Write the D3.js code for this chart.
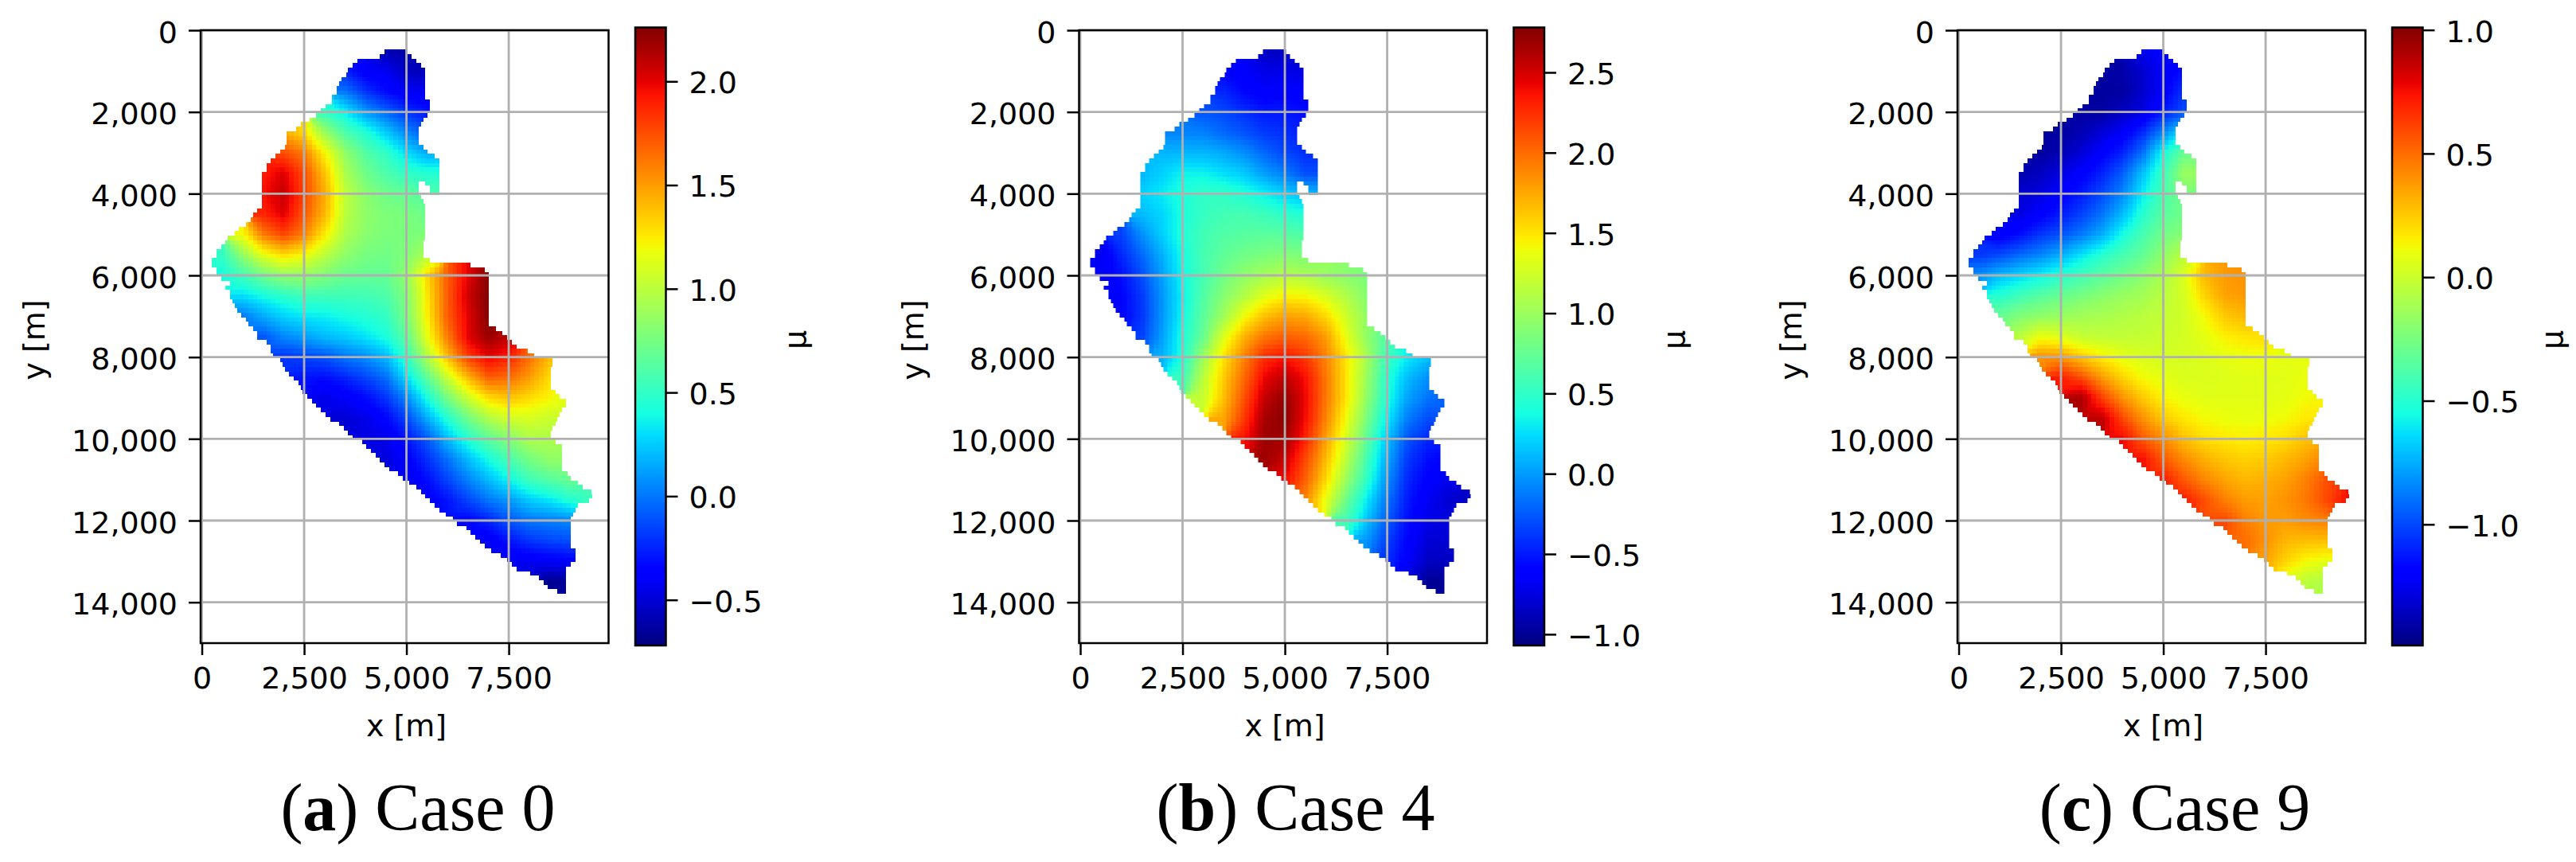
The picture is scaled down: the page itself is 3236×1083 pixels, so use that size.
<!DOCTYPE html>
<html>
<head>
<meta charset="utf-8">
<style>
  body { margin: 0; background: #fff; }
  svg { display: block; }
  text { fill: #000; font-family: "DejaVu Sans", sans-serif; }
  .caption text, text.caption { font-family: "Liberation Serif", serif; }
</style>
<script src="https://d3js.org/d3.v7.min.js"></script>
</head>
<body>
<svg></svg>
<script>
const WIDTH = 3236;
const HEIGHT = 1083;

const xTicks = [0, 2500, 5000, 7500];
const yTicks = [0, 2000, 4000, 6000, 8000, 10000, 12000, 14000];
const captionLetters = ['a', 'b', 'c'];
const captionCases = ['Case 0', 'Case 4', 'Case 9'];

// colour range of each colorbar and its ticks
const colorDomains = [[-0.72, 2.26], [-1.07, 2.78], [-1.49, 1.01]];
const colorTicks = [
  [-0.5, 0, 0.5, 1, 1.5, 2],
  [-1, -0.5, 0, 0.5, 1, 1.5, 2, 2.5],
  [-1, -0.5, 0, 0.5, 1],
];

// matplotlib jet
const jetStops = [0, 0.11, 0.125, 0.34, 0.375, 0.64, 0.66, 0.89, 0.91, 1];
const jetColors = ['#000080', '#0000ff', '#0000ff', '#00dbff', '#15ffe2',
  '#eeff08', '#ffec00', '#ff1300', '#e80000', '#800000'];

// raster of the map: cell size and the position of its first cell, in metres
const CELL = 111;
const CELL_X0 = 247;
const CELL_Y0 = 474;

// first and last column filled on each raster row
const rowLeft = [38, 37, 32, 31, 30, 29.5, 28.5, 28, 27.5, 27.5, 26.5, 26.5, 25, 24, 23, 21.5,
  19.5, 18.5, 16.5, 16.5, 16.5, 16, 15, 14, 13, 12, 12, 11, 11, 11, 11, 11, 11, 11, 11, 10, 9,
  8.5, 7.5, 6, 5, 3.5, 3, 2, 1, 1, 0, 0, 1, 1, 2, 4, 3, 4, 4, 4.5, 5, 5.5, 6.5, 7.5, 8, 9, 10,
  10, 12, 13, 13, 13.5, 15, 15.5, 16, 17, 18, 19, 19.5, 20, 21, 22, 23, 24, 25, 26, 28, 29, 30,
  31, 33, 34, 35, 36, 37, 38, 39, 41, 42, 43.5, 45, 46, 47, 48, 49, 50, 51.5, 53, 54, 56, 57,
  58, 59, 60, 61.5, 63.5, 65, 66, 67, 70, 72, 73, 74, 76];
const rowRight = [43, 44, 45, 46, 47, 47, 47, 47, 47, 47, 47, 48, 48, 48, 47.5, 46.5, 46, 45.5,
  45.5, 45.5, 45.5, 46.5, 47.5, 49, 50, 50, 50, 50, 50, 50, 50, 50, 46, 46.5, 47, 47, 47, 47,
  47, 47, 47, 47, 46.5, 46.5, 46.5, 46.5, 48, 57, 60, 61, 61, 61, 61, 61, 61, 61, 61, 61, 61,
  61, 61, 62.5, 64, 65, 66, 67, 69.5, 71, 75, 75, 74.6, 74.6, 74.6, 74.6, 74.6, 75.6, 76.5, 78,
  78, 77, 76.5, 76, 75.6, 75, 74.6, 74.6, 75.6, 77, 77, 77, 77, 77, 77, 78.3, 79, 80.6, 81.6,
  83.6, 83.7, 83, 80.6, 80, 79.5, 79, 79, 79, 79, 79, 79, 79, 80, 80, 80, 79, 78, 78, 78, 78,
  78, 78, 76.5];
// the small notch on the east side: [row, from column, to column]
const maskGaps = [[29, 45.5, 47], [30, 45.5, 48], [31, 45.5, 48]];

// mu values every 500 m; each row is [first x, values...]
const sampleStep = 500;
const sampleY = d3.range(27).map((i) => 500 + i * 500);

const case0 = [
  [4500, -0.6, -0.62],
  [3500, -0.25, -0.4, -0.42, -0.55, -0.58],
  [3500, 0, -0.2, -0.33, -0.42, -0.42],
  [3000, 0.5, 0.35, 0.1, -0.05, -0.2, -0.3],
  [2000, 1.45, 1.3, 0.88, 0.6, 0.45, 0.25, 0.05, -0.1],
  [2000, 1.75, 1.6, 1.22, 0.85, 0.62, 0.5, 0.3, 0.15],
  [1500, 1.9, 2.02, 1.75, 1.38, 0.95, 0.72, 0.6, 0.5, 0.45],
  [1500, 1.95, 2.08, 1.78, 1.45, 1.02, 0.82, 0.72, 0.68, 0.6],
  [1500, 1.88, 2.02, 1.72, 1.42, 1, 0.84, 0.78, 0.76, 0.72],
  [1000, 1.2, 1.6, 1.78, 1.58, 1.25, 0.95, 0.82, 0.77, 0.77, 0.78],
  [500, 0.5, 0.85, 1.15, 1.3, 1.2, 1, 0.84, 0.75, 0.73, 0.78, 0.95],
  [500, 0.4, 0.55, 0.72, 0.85, 0.85, 0.78, 0.7, 0.68, 0.68, 0.85, 1.3, 1.7, 2, 2.25],
  [1000, 0.3, 0.4, 0.48, 0.55, 0.55, 0.55, 0.56, 0.6, 0.78, 1.25, 1.7, 2.05, 2.26],
  [1000, 0, 0.15, 0.27, 0.33, 0.35, 0.4, 0.45, 0.5, 0.75, 1.22, 1.7, 2, 2.26],
  [1500, -0.1, 0.05, 0.12, 0.2, 0.25, 0.32, 0.42, 0.65, 1.15, 1.6, 2, 2.2, 2.1],
  [2000, -0.2, -0.15, -0.1, 0, 0.07, 0.2, 0.5, 0.95, 1.4, 1.8, 2, 1.9, 1.65, 1.4],
  [2500, -0.3, -0.32, -0.25, -0.15, -0.03, 0.3, 0.65, 1.05, 1.4, 1.7, 1.65, 1.5, 1.3],
  [3000, -0.45, -0.4, -0.33, -0.2, 0.05, 0.4, 0.75, 1.05, 1.3, 1.38, 1.3, 1.22, 1.1],
  [3500, -0.5, -0.45, -0.35, -0.15, 0.15, 0.45, 0.72, 0.95, 1.08, 1.1, 1.05],
  [4000, -0.47, -0.45, -0.3, -0.1, 0.2, 0.45, 0.65, 0.8, 0.95, 0.95],
  [4500, -0.48, -0.38, -0.22, -0.02, 0.2, 0.4, 0.58, 0.75, 0.85, 0.85],
  [5000, -0.43, -0.32, -0.15, 0.03, 0.2, 0.37, 0.55, 0.63, 0.7],
  [5500, -0.38, -0.3, -0.15, 0, 0.1, 0.25, 0.33, 0.45, 0.55],
  [6500, -0.35, -0.25, -0.1, 0, 0.02, 0.05],
  [7000, -0.42, -0.3, -0.2, -0.15, -0.12],
  [7500, -0.42, -0.42, -0.4, -0.38],
  [8000, -0.55, -0.68, -0.65],
];

const case4 = [
  [4500, -0.85, -0.85],
  [3500, -0.6, -0.65, -0.72, -0.72, -0.75],
  [3500, -0.45, -0.58, -0.65, -0.62, -0.65],
  [3000, -0.28, -0.32, -0.42, -0.5, -0.5, -0.55],
  [2000, -0.08, -0.1, -0.1, -0.2, -0.28, -0.38, -0.42, -0.5],
  [2000, 0.1, 0.1, 0.1, 0.05, -0.05, -0.2, -0.32, -0.42],
  [1500, 0.1, 0.2, 0.33, 0.33, 0.25, 0.18, 0, -0.12, -0.3],
  [1500, 0.2, 0.3, 0.42, 0.5, 0.5, 0.42, 0.32, 0.2, 0.1],
  [1500, 0.12, 0.22, 0.4, 0.52, 0.58, 0.6, 0.55, 0.48, 0.42],
  [1000, -0.35, -0.05, 0.2, 0.42, 0.58, 0.65, 0.68, 0.7, 0.68, 0.65],
  [500, -0.7, -0.45, -0.2, 0.08, 0.38, 0.6, 0.72, 0.8, 0.85, 0.88, 0.85],
  [500, -0.65, -0.55, -0.3, 0.02, 0.35, 0.6, 0.8, 0.95, 1.05, 1.12, 1.08, 0.98, 0.92, 0.85],
  [1000, -0.6, -0.38, -0.02, 0.32, 0.65, 0.9, 1.1, 1.32, 1.45, 1.42, 1.28, 1.1, 0.9],
  [1000, -0.6, -0.4, -0.02, 0.35, 0.7, 1.02, 1.4, 1.65, 1.78, 1.75, 1.55, 1.25, 0.95],
  [1500, -0.35, 0.02, 0.4, 0.75, 1.3, 1.7, 1.95, 2.05, 2, 1.8, 1.35, 0.95, 0.65],
  [2000, 0.08, 0.42, 1, 1.5, 1.9, 2.25, 2.35, 2.2, 1.9, 1.5, 1.05, 0.55, 0.3, 0.15],
  [2500, 0.55, 1.15, 1.6, 2, 2.42, 2.58, 2.38, 1.95, 1.5, 1, 0.45, 0.12, -0.05],
  [3000, 1.2, 1.65, 2.1, 2.55, 2.72, 2.42, 1.95, 1.5, 0.95, 0.42, 0.02, -0.15, -0.25],
  [3500, 1.75, 2.2, 2.65, 2.75, 2.4, 1.9, 1.4, 0.85, 0.3, -0.12, -0.3],
  [4000, 2.35, 2.68, 2.68, 2.3, 1.78, 1.28, 0.72, 0.15, -0.28, -0.45],
  [4500, 2.68, 2.55, 2.15, 1.68, 1.15, 0.6, 0.05, -0.38, -0.55, -0.6],
  [5000, 2.4, 2.05, 1.55, 1, 0.5, -0.05, -0.45, -0.62, -0.7],
  [5500, 1.9, 1.35, 0.78, 0.3, -0.15, -0.5, -0.68, -0.8, -0.85],
  [6500, 0.6, 0.15, -0.25, -0.55, -0.72, -0.75],
  [7000, -0.02, -0.35, -0.6, -0.78, -0.8],
  [7500, -0.42, -0.65, -0.85, -0.85],
  [8000, -0.75, -1, -1],
];

const case9 = [
  [4500, -1.25, -1.2],
  [3500, -1.42, -1.4, -1.32, -1.22, -1.15],
  [3500, -1.42, -1.42, -1.32, -1.22, -1.05],
  [3000, -1.42, -1.42, -1.35, -1.28, -1.12, -1],
  [2000, -1.42, -1.42, -1.38, -1.3, -1.22, -1.08, -0.85, -0.6],
  [2000, -1.42, -1.38, -1.3, -1.2, -1.1, -0.9, -0.55, -0.3],
  [1500, -1.4, -1.35, -1.28, -1.2, -1.1, -0.95, -0.7, -0.45, -0.15],
  [1500, -1.32, -1.28, -1.2, -1.12, -1, -0.85, -0.6, -0.4, -0.25],
  [1500, -1.28, -1.2, -1.12, -1.02, -0.9, -0.72, -0.5, -0.35, -0.28],
  [1000, -1.22, -1.15, -1.05, -0.98, -0.88, -0.75, -0.55, -0.4, -0.28, -0.2],
  [500, -1.05, -1, -0.92, -0.85, -0.75, -0.62, -0.5, -0.4, -0.32, -0.18, -0.05],
  [500, -0.82, -0.72, -0.65, -0.58, -0.5, -0.42, -0.35, -0.28, -0.2, -0.1, 0.05, 0.3, 0.38, 0.4],
  [1000, -0.5, -0.42, -0.35, -0.3, -0.25, -0.2, -0.15, -0.12, -0.05, 0.03, 0.22, 0.35, 0.38],
  [1000, -0.3, -0.22, -0.18, -0.15, -0.12, -0.1, -0.08, -0.05, -0.02, 0.02, 0.12, 0.25, 0.3],
  [1500, -0.05, 0.1, 0.05, -0.02, -0.03, -0.03, -0.02, 0, 0.03, 0.08, 0.15, 0.18, 0.2],
  [2000, 0.4, 0.38, 0.25, 0.15, 0.08, 0.04, 0.03, 0.03, 0.05, 0.08, 0.1, 0.1, 0.08, 0.08],
  [2500, 0.72, 0.58, 0.38, 0.22, 0.12, 0.08, 0.05, 0.05, 0.06, 0.07, 0.07, 0.07, 0.1],
  [3000, 0.92, 0.62, 0.4, 0.25, 0.14, 0.09, 0.07, 0.07, 0.07, 0.07, 0.08, 0.12, 0.15],
  [3500, 0.88, 0.6, 0.4, 0.25, 0.17, 0.12, 0.1, 0.09, 0.1, 0.12, 0.17],
  [4000, 0.78, 0.55, 0.42, 0.28, 0.2, 0.17, 0.15, 0.17, 0.2, 0.27],
  [4500, 0.75, 0.55, 0.42, 0.32, 0.26, 0.23, 0.25, 0.3, 0.36, 0.45],
  [5000, 0.72, 0.55, 0.43, 0.35, 0.3, 0.32, 0.36, 0.45, 0.58],
  [5500, 0.72, 0.58, 0.45, 0.37, 0.36, 0.4, 0.47, 0.6, 0.75],
  [6500, 0.6, 0.45, 0.38, 0.37, 0.42, 0.45],
  [7000, 0.5, 0.4, 0.3, 0.28, 0.28],
  [7500, 0.35, 0.22, 0.12, 0.08],
  [8000, 0.05, -0.05, -0.1],
];

const caseRows = [case0, case4, case9];

const frameLefts = [252, 1355.5, 2459];
const captionCenters = [525, 1627.5, 2732];
const FRAME_WIDTH = 512.5;
const FRAME_TOP = 38;
const FRAME_HEIGHT = 770;

const jet = d3.scaleLinear().domain(jetStops).range(jetColors);

function sampleAt(rows, col, rowIndex) {
  const row = rows[rowIndex];
  if (!row) return null;
  const i = (col * sampleStep - row[0]) / sampleStep + 1;
  return i >= 1 && i < row.length ? row[i] : null;
}

// Shades a raster cell from the four nearest read samples
function cellValue(rows, xm, ym) {
  const fx = xm / sampleStep;
  const fy = d3.bisectLeft(sampleY, ym) - 1;
  const rowIndex = Math.max(0, Math.min(sampleY.length - 1, fy));
  const ty = Math.max(0, Math.min(1, (ym - sampleY[rowIndex]) / sampleStep));
  const col = Math.floor(fx);
  const tx = fx - col;
  const corners = [
    [sampleAt(rows, col, rowIndex), (1 - tx) * (1 - ty)],
    [sampleAt(rows, col + 1, rowIndex), tx * (1 - ty)],
    [sampleAt(rows, col, rowIndex + 1), (1 - tx) * ty],
    [sampleAt(rows, col + 1, rowIndex + 1), tx * ty],
  ].filter((d) => d[0] !== null && d[1] > 0);
  if (corners.length) {
    return d3.sum(corners, (d) => d[0] * d[1]) / d3.sum(corners, (d) => d[1]);
  }
  // nothing close by: take the nearest sample on the row
  const row = rows[rowIndex];
  const i = Math.max(1, Math.min(row.length - 1, Math.round((xm - row[0]) / sampleStep) + 1));
  return row[i];
}

function inMask(r, c) {
  if (r < 0 || r >= rowLeft.length) return false;
  if (c < rowLeft[r] || c >= rowRight[r]) return false;
  return !maskGaps.some((g) => g[0] === r && c >= g[1] && c < g[2]);
}

function drawMap(rows, x, y, color) {
  const w = Math.ceil(FRAME_WIDTH);
  const canvas = document.createElement('canvas');
  canvas.width = w;
  canvas.height = FRAME_HEIGHT;
  const ctx = canvas.getContext('2d');
  const img = ctx.createImageData(w, FRAME_HEIGHT);
  for (let py = 0; py < FRAME_HEIGHT; py++) {
    const r = Math.floor((y.invert(py + 0.5) - CELL_Y0) / CELL);
    for (let px = 0; px < w; px++) {
      const c = (x.invert(px + 0.5) - CELL_X0) / CELL;
      if (!inMask(r, c)) continue;
      const v = cellValue(rows,
          CELL_X0 + (Math.floor(c) + 0.5) * CELL,
          CELL_Y0 + (r + 0.5) * CELL);
      const rgb = d3.rgb(color(v));
      const k = (py * w + px) * 4;
      img.data[k] = rgb.r;
      img.data[k + 1] = rgb.g;
      img.data[k + 2] = rgb.b;
      img.data[k + 3] = 255;
    }
  }
  ctx.putImageData(img, 0, 0);
  return canvas.toDataURL();
}

function styleAxis(g) {
  g.select('.domain').remove();
  g.selectAll('.tick line').attr('stroke', '#000').attr('stroke-width', 2.5);
  g.selectAll('.tick text').attr('font-size', 38);
}

const svg = d3.select('svg').attr('width', WIDTH).attr('height', HEIGHT);
const defs = svg.append('defs');

const gradient = defs.append('linearGradient')
    .attr('id', 'jet')
    .attr('x1', 0).attr('y1', 1)
    .attr('x2', 0).attr('y2', 0);
gradient.selectAll('stop')
    .data(jetStops)
  .enter().append('stop')
    .attr('offset', (d) => d)
    .attr('stop-color', (d, i) => jetColors[i]);

caseRows.forEach((rows, i) => {
  const g = svg.append('g').attr('transform', `translate(${frameLefts[i]}, ${FRAME_TOP})`);
  const x = d3.scaleLinear().domain([-30, 9940]).range([0, FRAME_WIDTH]);
  const y = d3.scaleLinear().domain([0, 15000]).range([0, FRAME_HEIGHT]);
  const color = d3.scaleLinear().domain(colorDomains[i]).range([0, 1]);

  g.append('image')
      .attr('width', Math.ceil(FRAME_WIDTH))
      .attr('height', FRAME_HEIGHT)
      .attr('href', drawMap(rows, x, y, (v) => jet(Math.max(0, Math.min(1, color(v))))));

  // grid
  g.selectAll('line.gx')
      .data(xTicks)
    .enter().append('line')
      .attr('class', 'gx')
      .attr('x1', (d) => x(d)).attr('x2', (d) => x(d))
      .attr('y1', 0).attr('y2', FRAME_HEIGHT)
      .attr('stroke', '#b0b0b0').attr('stroke-width', 2.8);
  g.selectAll('line.gy')
      .data(yTicks)
    .enter().append('line')
      .attr('class', 'gy')
      .attr('x1', 0).attr('x2', FRAME_WIDTH)
      .attr('y1', (d) => y(d)).attr('y2', (d) => y(d))
      .attr('stroke', '#b0b0b0').attr('stroke-width', 2.8);

  g.append('rect')
      .attr('width', FRAME_WIDTH).attr('height', FRAME_HEIGHT)
      .attr('fill', 'none').attr('stroke', '#000').attr('stroke-width', 2.5);

  g.append('g')
      .attr('transform', `translate(0, ${FRAME_HEIGHT})`)
      .call(d3.axisBottom(x).tickValues(xTicks).tickFormat(d3.format(',')).tickSize(15).tickPadding(15))
      .call(styleAxis);
  g.append('g')
      .call(d3.axisLeft(y).tickValues(yTicks).tickFormat(d3.format(',')).tickSize(15).tickPadding(14))
      .call(styleAxis)
      .selectAll('.tick text').attr('dy', '.4em');

  g.append('text')
      .attr('x', x(5000)).attr('y', 887)
      .attr('text-anchor', 'middle').attr('font-size', 38)
      .text('x [m]');
  g.append('text')
      .attr('transform', `translate(-196, ${389}) rotate(-90)`)
      .attr('text-anchor', 'middle').attr('font-size', 38)
      .text('y [m]');

  // colorbar
  const barX = 546;
  const barWidth = 38.5;
  const bar = d3.scaleLinear().domain(colorDomains[i]).range([773, -3.5]);
  g.append('rect')
      .attr('x', barX).attr('y', -3.5)
      .attr('width', barWidth).attr('height', 776.5)
      .attr('fill', 'url(#jet)')
      .attr('stroke', '#000').attr('stroke-width', 2.5);
  g.append('g')
      .attr('transform', `translate(${barX + barWidth}, 0)`)
      .call(d3.axisRight(bar).tickValues(colorTicks[i]).tickFormat(d3.format('.1f')).tickSize(15).tickPadding(14))
      .call(styleAxis)
      .selectAll('.tick text').attr('dy', '.38em');
  g.append('text')
      .attr('transform', `translate(760, 389) rotate(-90)`)
      .attr('text-anchor', 'middle').attr('font-size', 38)
      .text('μ');

  // caption below the panel
  const caption = svg.append('text')
      .attr('class', 'caption')
      .attr('x', captionCenters[i]).attr('y', 1043)
      .attr('text-anchor', 'middle').attr('font-size', 84);
  caption.append('tspan').text('(');
  caption.append('tspan').attr('font-weight', 'bold').text(captionLetters[i]);
  caption.append('tspan').text(`) ${captionCases[i]}`);
});
</script>
</body>
</html>
